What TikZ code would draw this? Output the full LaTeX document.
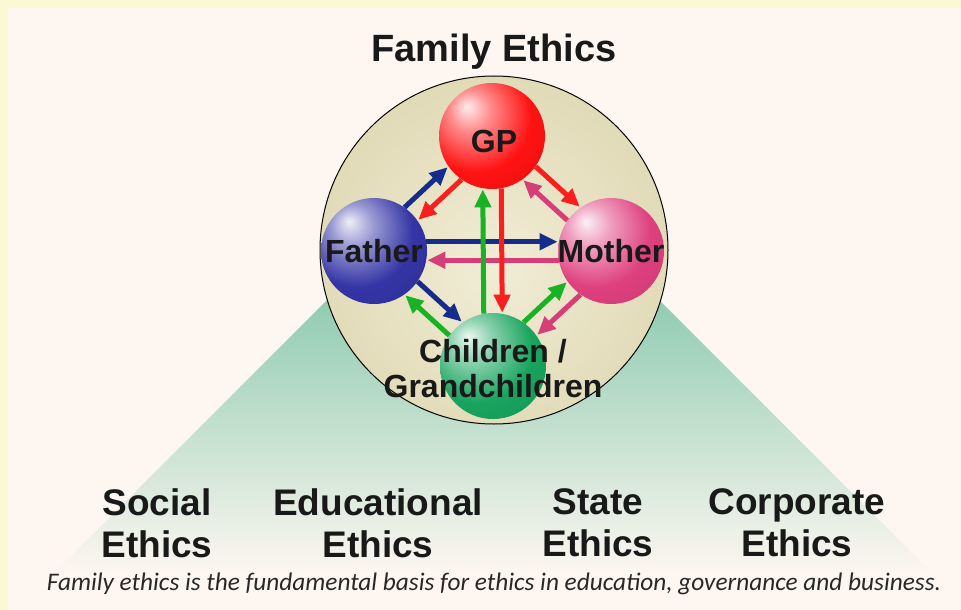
\documentclass[tikz,border=0pt]{standalone}
\usepackage{fontspec}
\setmainfont{Liberation Sans}
\newfontfamily\captionfont{Carlito}
\usetikzlibrary{arrows.meta}
\definecolor{bgyellow}{RGB}{253,248,212}
\definecolor{bgcream}{RGB}{254,247,241}
\definecolor{trigreen}{RGB}{78,178,138}
\definecolor{trimid}{RGB}{122,202,168}
\definecolor{discin}{RGB}{241,237,214}
\definecolor{discout}{RGB}{212,202,156}
\definecolor{gpred}{RGB}{255,18,18}
\definecolor{fatherblue}{RGB}{52,52,165}
\definecolor{motherpink}{RGB}{222,64,126}
\definecolor{childgreen}{RGB}{24,164,94}
\definecolor{arrblue}{RGB}{22,44,138}
\definecolor{arrred}{RGB}{250,30,30}
\definecolor{arrpink}{RGB}{214,62,120}
\definecolor{arrgreen}{RGB}{24,178,36}
\definecolor{ink}{RGB}{25,25,25}
\definecolor{capgray}{RGB}{40,40,40}
\colorlet{ballc}{red}
\pgfdeclareradialshading[ballc]{sphere}{\pgfqpoint{-12bp}{14bp}}{color(0bp)=(ballc!8!white); color(10bp)=(ballc!50!white); color(26bp)=(ballc); color(48bp)=(ballc!88!black); color(70bp)=(ballc!72!black)}
\pgfdeclareradialshading{disc}{\pgfqpoint{0bp}{-3bp}}{color(0bp)=(discin); color(22bp)=(discin!55!discout); color(50bp)=(discout)}
\begin{document}
\begin{tikzpicture}[x=1pt,y=-1pt,
    ball/.style={circle,minimum size=106pt,inner sep=0pt,shade,shading=sphere,/utils/exec={\colorlet{ballc}{#1}}},
    arr/.style={draw=#1,line width=5pt,-{Triangle[length=18pt,width=16pt]},shorten >=1pt},
    member/.style={font=\bfseries\fontsize{32}{35}\selectfont,text=ink,align=center,inner sep=0pt},
    ethic/.style={font=\bfseries\fontsize{37}{42}\selectfont,text=ink,align=center,inner sep=0pt,anchor=north}]
  \fill[bgyellow] (0,0) rectangle (961,610);
  \fill[bgcream] (8,8) rectangle (961,610);
  \useasboundingbox (0,0) rectangle (961,610);
  \shade[top color=trigreen,middle color=trimid,bottom color=bgcream]
    (493,134) -- (52,575) -- (934,575) -- cycle;
  \node[circle,minimum size=348pt,inner sep=0pt,draw=black,line width=1pt,shade,shading=disc] (disc) at (494,250) {};
  \node[ball=gpred] (gp) at (492,136) {};
  \node[ball=fatherblue] (father) at (374,251) {};
  \node[ball=motherpink] (mother) at (611,251) {};
  \node[ball=childgreen] (children) at (493,366) {};
  \begin{scope}
    \draw[arr=arrblue] (father.55) to (gp.215);
    \draw[arr=arrred] (gp.235) to (father.35);
    \draw[arr=arrred] (gp.325) to (mother.125);
    \draw[arr=arrpink] (mother.145) to (gp.305);
    \draw[arr=arrblue] (father.10) to (mother.170);
    \draw[arr=arrpink] (mother.190) to (father.350);
    \draw[arr=arrgreen] (children.100) to (gp.260);
    \draw[arr=arrred] (gp.280) to (children.80);
    \draw[arr=arrblue] (father.325) to (children.125);
    \draw[arr=arrgreen] (children.145) to (father.305);
    \draw[arr=arrgreen] (children.55) to (mother.215);
    \draw[arr=arrpink] (mother.235) to (children.35);
  \end{scope}
  \node[member] (gptext) at (494,141) {GP};
  \node[member] (fathertext) at (374,251) {Father};
  \node[member] (mothertext) at (611,251) {Mother};
  \node[member] (childrentext) at (493,369) {Children /\\Grandchildren};
  \node[font=\bfseries\fontsize{38}{44}\selectfont,text=ink,anchor=base,inner sep=0pt] (title) at (494,62) {Family Ethics};
  \node[ethic] (social) at (157,488) {Social\\Ethics};
  \node[ethic] (educational) at (378,488) {Educational\\Ethics};
  \node[ethic] (state) at (598,488) {State\\Ethics};
  \node[ethic] (corporate) at (797,488) {Corporate\\Ethics};
  \node[font=\captionfont\itshape\fontsize{25.3}{29}\selectfont,text=capgray,anchor=base,inner sep=0pt] (caption) at (494,590)
    {Family ethics is the fundamental basis for ethics in education, governance and business.};
\end{tikzpicture}
\end{document}
